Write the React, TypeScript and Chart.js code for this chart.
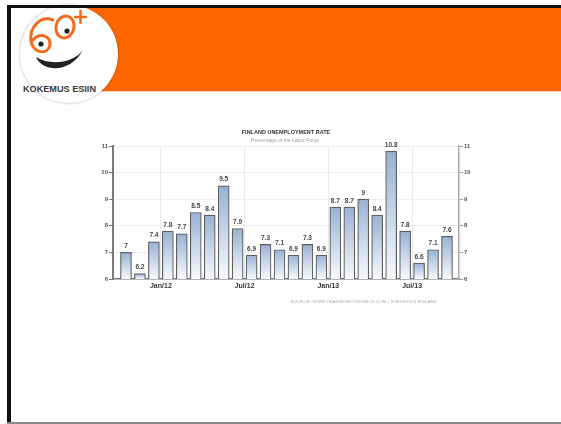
import React, { useEffect, useRef } from "react";
import { Chart, registerables } from "chart.js";

Chart.register(...registerables);

const months = [
  "Oct/11", "Nov/11", "Dec/11", "Jan/12", "Feb/12", "Mar/12", "Apr/12", "May/12",
  "Jun/12", "Jul/12", "Aug/12", "Sep/12", "Oct/12", "Nov/12", "Dec/12", "Jan/13",
  "Feb/13", "Mar/13", "Apr/13", "May/13", "Jun/13", "Jul/13", "Aug/13", "Sep/13",
];
const rates = [7, 6.2, 7.4, 7.8, 7.7, 8.5, 8.4, 9.5, 7.9, 6.9, 7.3, 7.1, 6.9, 7.3, 6.9, 8.7, 8.7, 9, 8.4, 10.8, 7.8, 6.6, 7.1, 7.6];
const xTickPositions = [2.5, 8.5, 14.5, 20.5];
const xTickLabels = ["Jan/12", "Jul/12", "Jan/13", "Jul/13"];
const yTicks = [6, 7, 8, 9, 10, 11];

const TITLE = "FINLAND UNEMPLOYMENT RATE";
const SUBTITLE = "Percentage of the Labor Force";
const SOURCE = "SOURCE: WWW.TRADINGECONOMICS.COM | STATISTICS FINLAND";

const FONT = "'Liberation Sans', Arial, sans-serif";

const textPlugin = {
  id: "texts",
  afterDatasetsDraw(chart: any) {
    const ctx = chart.ctx;
    ctx.save();
    const meta = chart.getDatasetMeta(0);
    ctx.font = `bold 6.5px ${FONT}`;
    ctx.fillStyle = "#444";
    ctx.textAlign = "center";
    ctx.textBaseline = "bottom";
    meta.data.forEach((el: any, i: number) => {
      ctx.fillText(String(rates[i]), el.x, el.y - 3);
    });
    ctx.font = `bold 5.5px ${FONT}`;
    ctx.fillStyle = "#333";
    ctx.textBaseline = "middle";
    ctx.fillText(TITLE, 216, 10);
    ctx.font = `5px ${FONT}`;
    ctx.fillStyle = "#a0a0a0";
    ctx.fillText(SUBTITLE, 215, 19);
    ctx.font = `4.4px ${FONT}`;
    ctx.fillStyle = "#aaa";
    ctx.textAlign = "right";
    (ctx as any).letterSpacing = "0.1px";
    ctx.fillText(SOURCE, 367, 180);
    ctx.restore();
  },
};

function BarChart() {
  const ref = useRef<HTMLCanvasElement>(null);
  useEffect(() => {
    if (!ref.current) return;
    const chart = new Chart(ref.current, {
      type: "bar",
      data: {
        labels: months,
        datasets: [
          {
            label: "Unemployment rate",
            data: rates.map((v, i) => ({ x: i, y: v })) as any,
            yAxisID: "y",
            barThickness: 11,
            borderColor: "#5f5f5f",
            borderWidth: 1.2,
            borderSkipped: "bottom",
            backgroundColor: (c: any) => {
              const ch = c.chart;
              const ys = ch.scales && ch.scales.y;
              if (!ys || c.type !== "data" || !c.parsed) return "#c4d3e8";
              const top = ys.getPixelForValue(c.parsed.y);
              const bottom = ys.getPixelForValue(6);
              if (!isFinite(top) || !isFinite(bottom) || top === bottom) return "#c4d3e8";
              const g = ch.ctx.createLinearGradient(0, top, 0, bottom);
              g.addColorStop(0, "#98b1d4");
              g.addColorStop(1, "#f8fafd");
              return g;
            },
          },
        ],
      },
      options: {
        animation: false,
        responsive: false,
        maintainAspectRatio: false,
        layout: { padding: { top: 24, bottom: 19, left: 0, right: 0 } },
        plugins: { legend: { display: false }, tooltip: { enabled: false }, title: { display: false } },
        scales: {
          x: {
            type: "linear",
            min: -0.93,
            max: 23.86,
            offset: false,
            afterBuildTicks: (s: any) => {
              s.ticks = xTickPositions.map((v) => ({ value: v }));
            },
            afterFit: (s: any) => {
              s.height = 14;
            },
            ticks: {
              autoSkip: false,
              maxRotation: 0,
              padding: 3,
              color: "#333",
              font: { family: FONT, size: 7, weight: "bold" },
              callback: (_v: any, i: number) => xTickLabels[i],
            },
            grid: { color: "#e8e8e8", drawTicks: false, offset: false, lineWidth: 1 },
            border: { color: "#7a7a7a", width: 1.5 },
          },
          y: {
            position: "left",
            min: 6,
            max: 11,
            afterBuildTicks: (s: any) => {
              s.ticks = yTicks.map((v) => ({ value: v }));
            },
            afterFit: (s: any) => {
              s.width = 43;
            },
            ticks: {
              padding: 1,
              color: "#555",
              font: { family: FONT, size: 6, weight: "bold" },
            },
            grid: { color: "#ececec", tickColor: "#777", tickLength: 4, lineWidth: 1 },
            border: { color: "#7a7a7a", width: 2 },
          },
          y2: {
            position: "right",
            min: 6,
            max: 11,
            afterBuildTicks: (s: any) => {
              s.ticks = yTicks.map((v) => ({ value: v }));
            },
            afterFit: (s: any) => {
              s.width = 51;
            },
            ticks: {
              padding: 1,
              color: "#555",
              font: { family: FONT, size: 6, weight: "bold" },
            },
            grid: { drawOnChartArea: false, tickColor: "#999", tickLength: 4 },
            border: { color: "#aaa", width: 1.5 },
          },
        },
      } as any,
      plugins: [textPlugin],
    });
    return () => chart.destroy();
  }, []);
  return (
    <canvas
      ref={ref}
      width={440}
      height={190}
      style={{ position: "absolute", left: 70, top: 122, width: 440, height: 190 }}
    />
  );
}

export default function App() {
  return (
    <div style={{ position: "absolute", left: 0, top: 0, width: 561, height: 424, background: "#fff", overflow: "hidden" }}>
      <div style={{ position: "absolute", left: 62, top: 8, width: 499, height: 83, background: "#ff6600" }} />
      <div style={{ position: "absolute", left: 62, top: 91, width: 499, height: 1, background: "#f3d9c6" }} />
      <div
        style={{
          position: "absolute",
          left: 69 - 49,
          top: 54 - 49,
          width: 98,
          height: 98,
          borderRadius: "50%",
          background: "#fff",
          boxShadow: "0 0 3px rgba(0,0,0,0.3)",
        }}
      />
      <svg style={{ position: "absolute", left: 0, top: 0 }} width={130} height={110} viewBox="0 0 130 110">
        <path d="M 53 20 C 41 15, 29 27, 31 41 C 33 54, 48 55, 50 45 C 51 36, 40 32, 33 40" fill="none" stroke="#f26a1b" strokeWidth={3} strokeLinecap="round" />
        <ellipse cx={65} cy={27} rx={9} ry={11} fill="none" stroke="#f26a1b" strokeWidth={3} transform="rotate(15 65 27)" />
        <path d="M 75 17 L 86 17 M 80.5 11 L 80.5 23" stroke="#f26a1b" strokeWidth={2.5} strokeLinecap="round" />
        <circle cx={41} cy={44} r={2.6} fill="#222" />
        <circle cx={67} cy={31} r={2.6} fill="#222" />
        <path d="M 36 57 C 42 72, 70 74, 83 50 C 74 63, 50 66, 36 57 Z" fill="#222" />
        <text x={23} y={92} textLength={73} lengthAdjust="spacingAndGlyphs" fontFamily={FONT} fontWeight="bold" fontSize={9} fill="#3a3a3a">
          KOKEMUS ESIIN
        </text>
      </svg>
      <div style={{ position: "absolute", left: 7, top: 5, width: 554, height: 3, background: "#111" }} />
      <div style={{ position: "absolute", left: 7, top: 5, width: 4, height: 419, background: "#111" }} />
      <div style={{ position: "absolute", left: 7, top: 422, width: 554, height: 2, background: "#888" }} />
      <BarChart />
    </div>
  );
}
